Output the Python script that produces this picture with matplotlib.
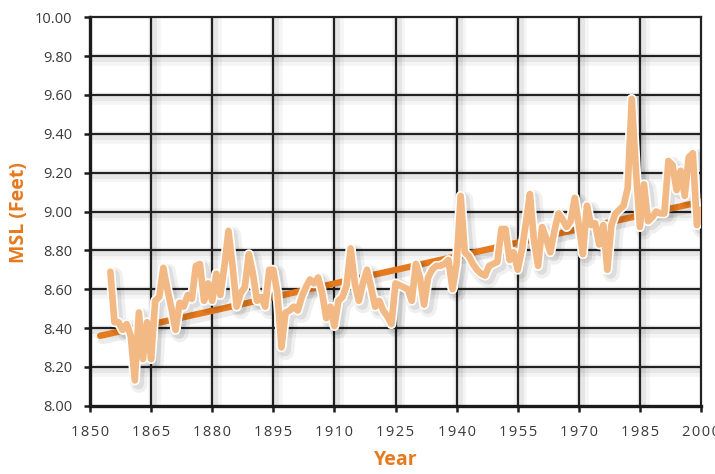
import matplotlib
matplotlib.use("Agg")
import matplotlib.pyplot as plt
import matplotlib.patheffects as pe

# ---- data ----
years = list(range(1855, 2001))
msl = [
    8.69, 8.43, 8.43, 8.39, 8.42,                                  # 1855-1859
    8.36, 8.13, 8.48, 8.24, 8.43, 8.24, 8.54, 8.56, 8.71, 8.60,    # 1860s
    8.50, 8.39, 8.53, 8.51, 8.57, 8.55, 8.72, 8.73, 8.54, 8.63,    # 1870s
    8.54, 8.68, 8.57, 8.72, 8.90, 8.72, 8.51, 8.58, 8.61, 8.78,    # 1880s
    8.68, 8.54, 8.56, 8.51, 8.70, 8.70, 8.58, 8.30, 8.48, 8.49,    # 1890s
    8.51, 8.49, 8.56, 8.61, 8.65, 8.63, 8.66, 8.58, 8.45, 8.51,    # 1900s
    8.41, 8.54, 8.56, 8.62, 8.81, 8.63, 8.54, 8.63, 8.70, 8.61,    # 1910s
    8.51, 8.54, 8.49, 8.46, 8.42, 8.63, 8.62, 8.61, 8.60, 8.54,    # 1920s
    8.73, 8.66, 8.52, 8.66, 8.70, 8.72, 8.72, 8.73, 8.75, 8.60,    # 1930s
    8.73, 9.08, 8.79, 8.77, 8.73, 8.70, 8.68, 8.67, 8.72, 8.73,    # 1940s
    8.74, 8.91, 8.91, 8.75, 8.79, 8.70, 8.80, 8.94, 9.09, 8.85,    # 1950s
    8.72, 8.92, 8.86, 8.79, 8.90, 8.99, 8.96, 8.92, 8.95, 9.07,    # 1960s
    8.93, 8.78, 9.03, 8.93, 8.94, 8.83, 8.93, 8.70, 8.93, 8.99,    # 1970s
    9.01, 9.03, 9.12, 9.58, 9.22, 8.92, 9.14, 8.95, 8.97, 9.00,    # 1980s
    8.99, 8.99, 9.26, 9.24, 9.11, 9.21, 9.08, 9.28, 9.30, 8.93,    # 1990s
    9.01,                                                          # 2000
]
trend_years = [1852.5, 2000.0]
trend_msl = [8.36, 9.05]

x_ticks = [1850, 1865, 1880, 1895, 1910, 1925, 1940, 1955, 1970, 1985, 2000]
y_ticks = [8.00, 8.20, 8.40, 8.60, 8.80, 9.00, 9.20, 9.40, 9.60, 9.80, 10.00]

# ---- style ----
plt.rcParams['font.family'] = ['Open Sans', 'DejaVu Sans']
ORANGE = '#E57A1E'
LIGHT = '#F2B985'
GRID = '#222222'
TICKC = '#3a3a3a'

fig = plt.figure(figsize=(7.15, 4.74), dpi=100)
ax = fig.add_axes([90/715, 1 - 405.7/474, 611/715, (405.7 - 17.3)/474])
ax.set_xlim(1850, 2000)
ax.set_ylim(8.0, 10.0)
ax.set_facecolor('white')

grid_fx = [pe.SimpleLineShadow(offset=(2, -2), shadow_color='black', alpha=0.04, linewidth=9),
           pe.SimpleLineShadow(offset=(1.5, -1.5), shadow_color='black', alpha=0.06, linewidth=5),
           pe.Normal()]
for xv in x_ticks[1:-1]:
    ax.axvline(xv, color=GRID, lw=1.6, zorder=1, path_effects=grid_fx)
for yv in y_ticks[1:-1]:
    ax.axhline(yv, color=GRID, lw=1.6, zorder=1, path_effects=grid_fx)

for side in ['top', 'right']:
    ax.spines[side].set_linewidth(1.6)
    ax.spines[side].set_color(GRID)
for side in ['left', 'bottom']:
    ax.spines[side].set_linewidth(2.4)
    ax.spines[side].set_color('#1a1a1a')

# trend line
ax.plot(trend_years, trend_msl, color=ORANGE, lw=4.6, solid_capstyle='round', zorder=3,
        path_effects=[pe.SimpleLineShadow(offset=(2, -2), shadow_color='black', alpha=0.08, linewidth=8),
                      pe.Normal()])

# data line
ax.plot(years, msl, color=LIGHT, lw=4.8, solid_joinstyle='round', solid_capstyle='round', zorder=4,
        path_effects=[pe.SimpleLineShadow(offset=(3, -3), shadow_color='black', alpha=0.06, linewidth=12),
                      pe.SimpleLineShadow(offset=(2.5, -2.5), shadow_color='black', alpha=0.08, linewidth=8),
                      pe.Stroke(linewidth=7.2, foreground='white'),
                      pe.Normal()])

ax.set_xticks(x_ticks)
ax.set_xticklabels(['\u200a'.join(str(v)) for v in x_ticks])
ax.set_yticks(y_ticks)
ax.set_yticklabels([f"{v:.2f}" for v in y_ticks])
ax.tick_params(axis='both', direction='out', length=4, width=1.8, color='#1a1a1a',
               labelsize=10.5, labelcolor=TICKC)
ax.tick_params(axis='y', pad=9)
ax.tick_params(axis='x', pad=10)

ax.set_xlabel('Year', color=ORANGE, fontsize=14, fontweight='bold')
ax.set_ylabel('MSL (Feet)', color=ORANGE, fontsize=14, fontweight='bold')
ax.xaxis.set_label_coords((396 - 90) / 611, -(450 - 405.7) / 388.4)
ax.yaxis.set_label_coords(-(90 - 29) / 611, (405.7 - 213) / 388.4)

fig.savefig('out.png', dpi=100, facecolor='white')
